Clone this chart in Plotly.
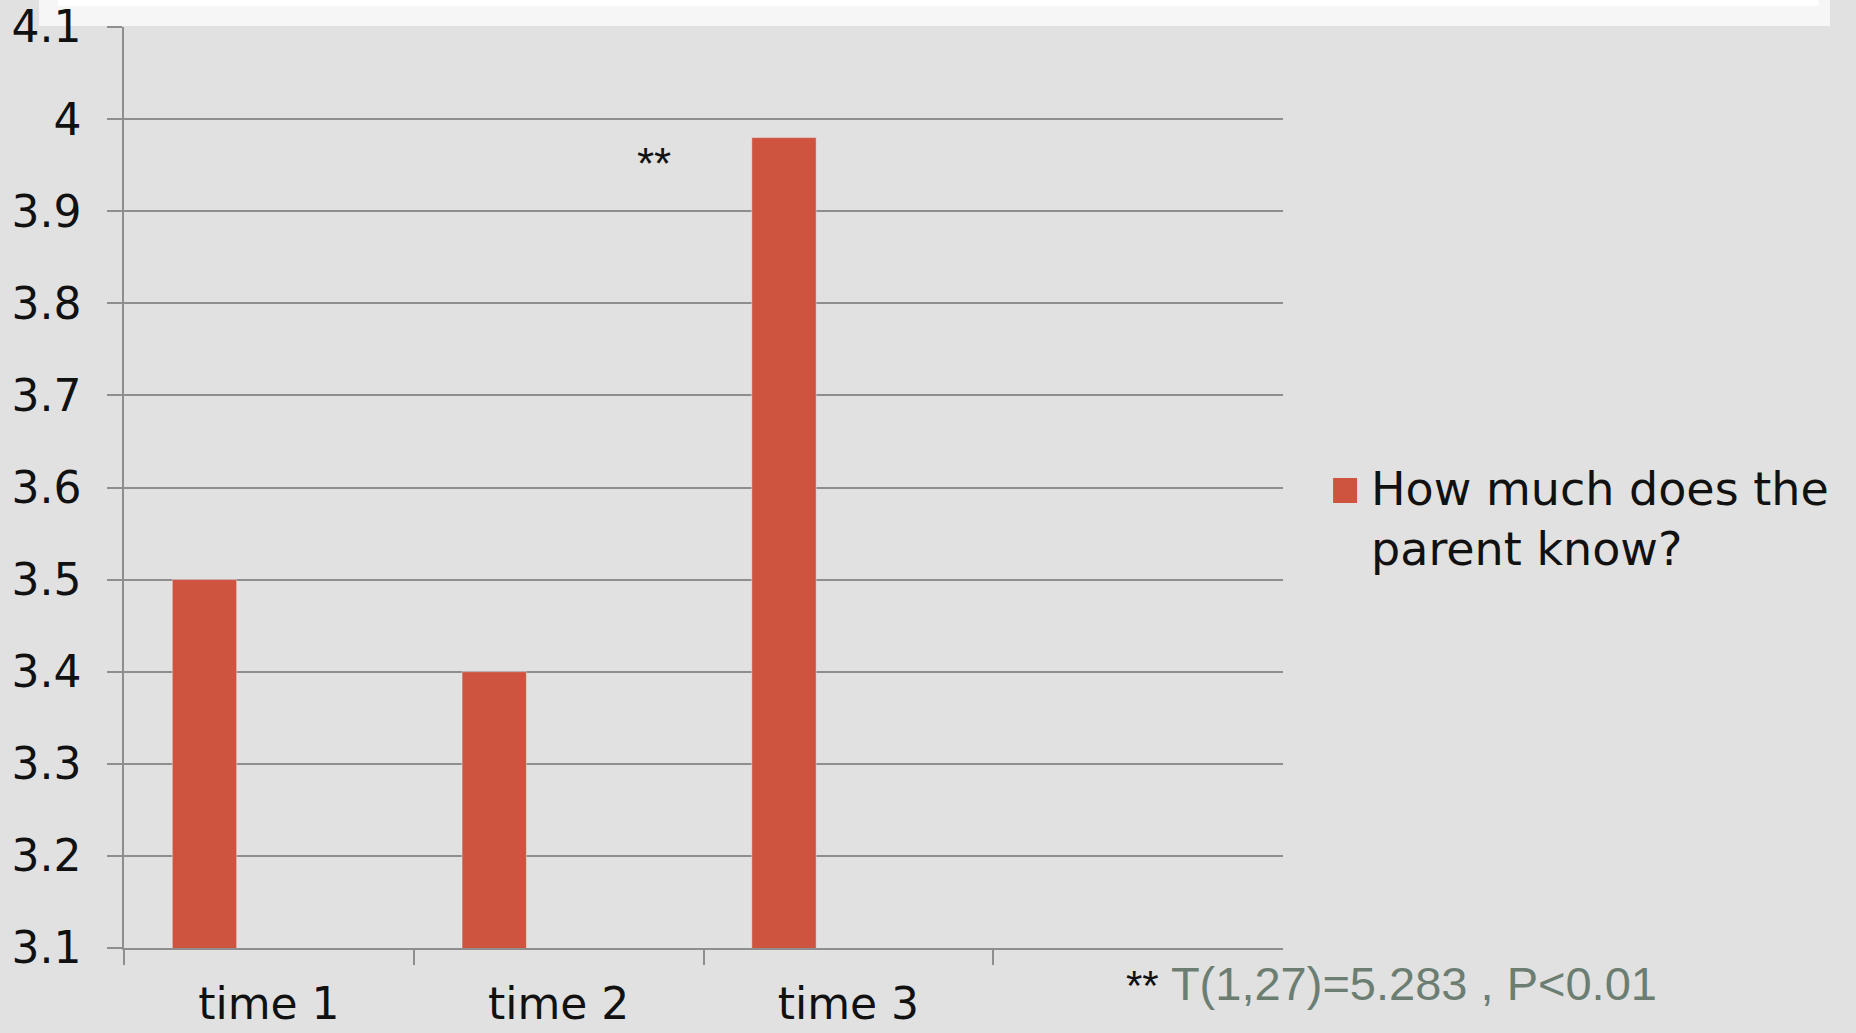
import plotly.graph_objects as go

categories = ["time 1", "time 2", "time 3"]
values = [3.5, 3.4, 3.98]
series_name = "How much does the<br>parent know?"
y_ticks = [3.1, 3.2, 3.3, 3.4, 3.5, 3.6, 3.7, 3.8, 3.9, 4.0, 4.1]
y_tick_text = ["3.1", "3.2", "3.3", "3.4", "3.5", "3.6", "3.7", "3.8", "3.9", "4", "4.1"]
sig_mark = "**"
sig_category_pos = 1.33
sig_value = 3.952
footnote_stars = "**"
footnote_text = "T(1,27)=5.283 , P<0.01"

BAR = "#CF543F"
GRID = "#8E8E8E"
BG = "#E1E1E1"
FONT = "DejaVu Sans"

fig = go.Figure()
fig.add_trace(go.Bar(x=categories, y=values, marker_color=BAR, showlegend=False, name="How much does the parent know?"))
# empty companion series (clustered layout slots)
fig.add_trace(go.Bar(x=categories, y=[None] * len(categories), showlegend=False, hoverinfo="skip"))
fig.add_trace(go.Bar(x=categories, y=[None] * len(categories), showlegend=False, hoverinfo="skip"))

fig.update_layout(
    width=1856, height=1033,
    margin=dict(l=124, r=573, t=27, b=85, autoexpand=False),
    paper_bgcolor=BG, plot_bgcolor=BG,
    barmode="group", bargap=1.5 / 4.5, bargroupgap=0,
    font=dict(family=FONT, color="#111111"),
    showlegend=False,
)
fig.update_xaxes(
    type="category", categoryorder="array", categoryarray=categories,
    range=[-0.5, 3.5], tickson="boundaries",
    ticks="outside", ticklen=15, tickwidth=1.5, tickcolor=GRID,
    showline=True, linecolor=GRID, linewidth=1.5, showgrid=False,
    tickfont=dict(size=44, family=FONT, color="#111111"),
    ticklabelstandoff=16,
)
fig.update_yaxes(
    range=[3.0999, 4.1001], tickvals=y_ticks, ticktext=y_tick_text,
    ticks="outside", ticklen=15, tickwidth=1.5, tickcolor=GRID,
    showline=True, linecolor=GRID, linewidth=1.5,
    showgrid=True, gridcolor=GRID, gridwidth=1.5, zeroline=False,
    tickfont=dict(size=44, family=FONT, color="#111111"),
    ticklabelstandoff=17,
)

# top light band of the slide
fig.add_shape(type="rect", xref="paper", yref="paper", x0=-0.0733, x1=1.472, y0=1.0011, y1=1.03,
              fillcolor="#F6F6F6", line_width=0, layer="below")
fig.add_shape(type="rect", xref="paper", yref="paper", x0=-0.057, x1=1.462, y0=1.023, y1=1.03,
              fillcolor="#FFFFFF", line_width=0, layer="below")

# manual legend
fig.add_shape(type="rect", xref="paper", yref="paper", x0=1.0432, x1=1.0639, y0=0.4832, y1=0.5103,
              fillcolor=BAR, line_width=0)
fig.add_annotation(xref="paper", yref="paper", x=1.0745, y=0.4653, xanchor="left", yanchor="middle",
                   text=series_name, align="left", showarrow=False,
                   font=dict(size=46, family=FONT, color="#111111"))

# significance mark
fig.add_annotation(x=sig_category_pos, y=sig_value, text=sig_mark, showarrow=False,
                   font=dict(size=44, family="Liberation Sans", color="#111111"))

# footnote
fig.add_annotation(xref="paper", yref="paper", x=0.863, y=-0.039, xanchor="left", yanchor="middle",
                   text=f"<span style='font-size:42px;color:#111111'>{footnote_stars}</span> {footnote_text}",
                   showarrow=False, font=dict(size=47, family="Liberation Sans", color="#6B7E71"))

fig.write_html("out.html", config={"displayModeBar": False},
               post_script="document.body.style.margin='0';document.body.style.background='#E1E1E1';")
